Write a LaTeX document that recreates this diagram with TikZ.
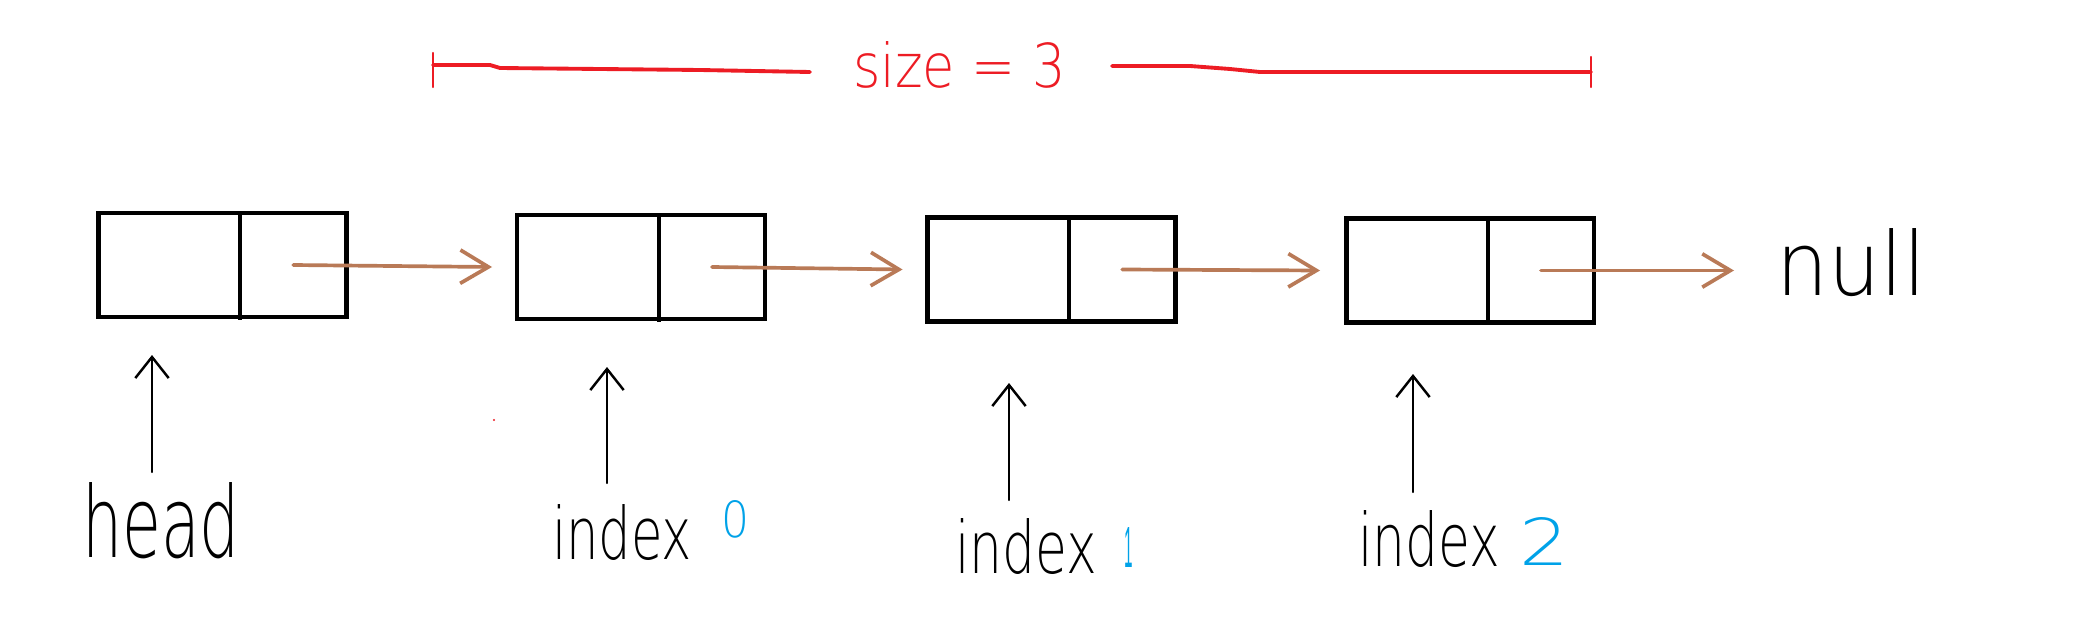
\documentclass[tikz,border=0pt]{standalone}
\usepackage{fontspec}
\setmainfont{Liberation Sans}
\newfontfamily\hand{DejaVu Sans ExtraLight}
\usetikzlibrary{arrows.meta,calc}
\definecolor{pred}{HTML}{ED1C24}
\definecolor{pbrown}{HTML}{B97A57}
\definecolor{pblue}{HTML}{00A2E8}
\tikzset{
  cell/.style={draw=black, line width=2.8pt, minimum width=4.96cm, minimum height=2.08cm, inner sep=0pt, outer sep=0pt},
  divider/.style={draw=black, line width=2.4pt},
  link/.style={draw=pbrown, line width=2.1pt, line cap=round, -{Straight Barb[length=16pt,width=19pt,line width=2.1pt]}},
  uparrow/.style={draw=black, line width=1.4pt, line cap=round, -{Straight Barb[length=12pt,width=19pt,line width=1.4pt]}},
  sizeline/.style={draw=pred, line width=2.2pt, line cap=round},
  lbl/.style={inner sep=0pt, outer sep=0pt, anchor=base west, text=black, font=\hand\fontsize{40}{44}\selectfont},
}
\begin{document}
\begin{tikzpicture}[x=0.02cm,y=-0.02cm]
\useasboundingbox[fill=white] (0,0) rectangle (2089,642);
% boxes
\node[cell] (b1) at (222.5,265) {};
\node[cell] (b2) at (641,267) {};
\node[cell] (b3) at (1051.5,269.5) {};
\node[cell] (b4) at (1470,270.5) {};
\draw[divider] (240,0 |- b1.north) -- ($(240,0 |- b1.south)+(0,3)$);
\draw[divider] (659,0 |- b2.north) -- ($(659,0 |- b2.south)+(0,3)$);
\draw[divider] (1069,0 |- b3.north) -- ($(1069,0 |- b3.south)+(0,3)$);
\draw[divider] (1488,0 |- b4.north) -- ($(1488,0 |- b4.south)+(0,3)$);
\coordinate (r1) at ($(240,0 |- b1.center)!0.5!(b1.east)$);
\coordinate (r2) at ($(659,0 |- b2.center)!0.5!(b2.east)$);
\coordinate (r3) at ($(1069,0 |- b3.center)!0.5!(b3.east)$);
\coordinate (r4) at ($(1488,0 |- b4.center)!0.5!(b4.east)$);
% null
\node[lbl] (null) at (1776,295) {\resizebox{3.0cm}{1.34cm}{null}};
\coordinate (nullend) at ($(r4)+(193,0)$);
% links
\draw[link] (r1) -- ($(b2.west)+(-25,0)$);
\draw[link] (r2) -- ($(b3.west)+(-25,0)$);
\draw[link] (r3) -- ($(b4.west)+(-26,0)$);
\draw[link] (r4) -- (nullend);
% labels
\node[lbl] (head) at (82,557) {\resizebox{3.16cm}{1.5cm}{head}};
\node[lbl] (i0) at (552,559) {\resizebox{2.8cm}{1.1cm}{index}};
\node[lbl, text=pblue] (d0) at (721,537) {\resizebox{0.56cm}{0.74cm}{0}};
\node[lbl] (i1) at (955,573) {\resizebox{2.84cm}{1.1cm}{index}};
\node[lbl, text=pblue, font=\rmfamily\fontsize{40}{44}\selectfont] (d1) at (1124,567) {\resizebox{0.17cm}{0.8cm}{1}};
\node[lbl] (i2) at (1358,566) {\resizebox{2.84cm}{1.12cm}{index}};
\node[lbl, text=pblue] (d2) at (1519,565) {\resizebox{1.0cm}{0.96cm}{2}};
% pointer arrows
\coordinate (t0) at (152,472); \coordinate (p0) at (152,355);
\coordinate (t1) at (607,483); \coordinate (p1) at (607,367);
\coordinate (t2) at (1009,500); \coordinate (p2) at (1009,383);
\coordinate (t3) at (1413,492); \coordinate (p3) at (1413,374);
\draw[uparrow] (t0) -- (p0);
\draw[uparrow] (t1) -- (p1);
\draw[uparrow] (t2) -- (p2);
\draw[uparrow] (t3) -- (p3);
% size
\node[lbl, text=pred] (size) at (853,88) {\resizebox{4.26cm}{0.92cm}{size = 3}};
\coordinate (sl) at (433,65);
\coordinate (sr) at (1591,72);
\draw[sizeline, line width=1.4pt] (433,53) -- (433,87);
\draw[sizeline, line width=1.4pt] (1591,57) -- (1591,87);
\draw[sizeline] (sl) -- (490,65) -- (500,68) -- (600,69) -- (700,70) -- (810,72);
\draw[sizeline] (1112,66) -- (1190,66) -- (1230,69) -- (1260,72) -- (sr);
% stray dot
\fill[pred] (494,420) circle (1.2);
\end{tikzpicture}
\end{document}
